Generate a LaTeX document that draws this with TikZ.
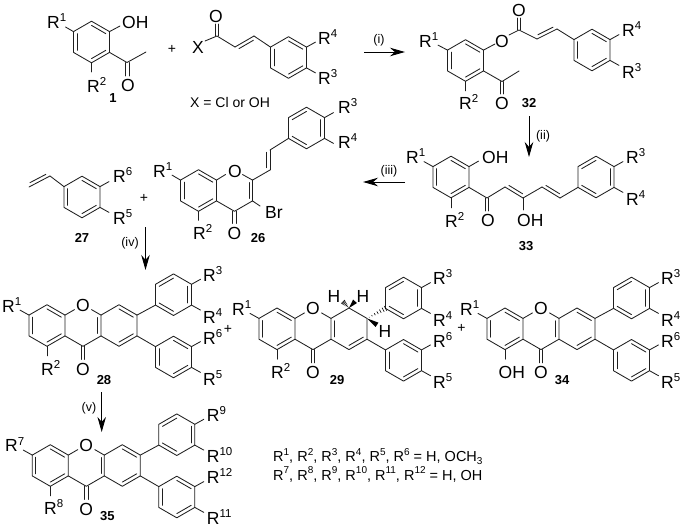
\documentclass[tikz,border=0pt]{standalone}
\usepackage{fontspec}
\setmainfont{Liberation Sans}
\usetikzlibrary{arrows.meta}
\newcounter{lc}
\tikzset{
  bond/.style={line width=0.85pt,line cap=round,line join=round,draw=black!88},
  lab/.style={inner sep=0pt,font=\fontsize{17.5}{17.5}\selectfont},
  note/.style={inner sep=0pt,font=\fontsize{14.5}{14.5}\selectfont},
  xnote/.style={inner sep=0pt,font=\fontsize{14}{14}\selectfont},
  plus/.style={inner sep=0pt,font=\fontsize{14}{14}\selectfont},
  cmpd/.style={inner sep=0pt,font=\bfseries\fontsize{13}{13}\selectfont},
  cond/.style={inner sep=0pt,font=\fontsize{12.5}{12.5}\selectfont},
  rxn/.style={line width=0.85pt,-{Stealth[length=15pt,width=8.5pt]}}
}
\newcommand\R[1]{R\raisebox{0.38em}{\fontsize{11.5}{11.5}\selectfont #1}}
\newcommand\Rn[1]{R\raisebox{0.42em}{\fontsize{10}{10}\selectfont #1}}
\newcommand\Lb[3]{\stepcounter{lc}\node[lab,anchor=base west] (t\arabic{lc}) at (#1,#2) {#3};}
\newcommand\Lc[3]{\stepcounter{lc}\node[lab,anchor=center] (t\arabic{lc}) at (#1,#2) {#3};}
\newcommand\Pl[2]{\stepcounter{lc}\node[plus,anchor=center] (t\arabic{lc}) at (#1,#2) {+};}
\newcommand\Cm[3]{\stepcounter{lc}\node[cmpd,anchor=base] (t\arabic{lc}) at (#1,#2) {#3};}
\newcommand\Cd[3]{\stepcounter{lc}\node[cond,anchor=center] (t\arabic{lc}) at (#1,#2) {#3};}
\newcommand\Ring[4]{%
  \foreach \k in {0,...,5}{\pgfmathsetmacro\an{-90+60*\k}\coordinate (#1\k) at ([shift={(#2,#3)}]\an:20.8);}
  \draw[bond] (#10)--(#11)--(#12)--(#13)--(#14)--(#15)--cycle;
  \foreach \e in {#4}{\pgfmathsetmacro\an{-90+60*\e}\pgfmathsetmacro\bn{\an+60}
    \draw[bond] ([shift={(#2,#3)}]\an:16.6)--([shift={(#2,#3)}]\bn:16.6);}}
\newcommand\DB[5]{%
  \pgfmathsetmacro\ddx{#3-#1}\pgfmathsetmacro\ddy{#4-#2}\pgfmathsetmacro\bl{veclen(\ddx,\ddy)}
  \pgfmathsetmacro\nnx{-\ddy/\bl*3.4*#5}\pgfmathsetmacro\nny{\ddx/\bl*3.4*#5}
  \draw[bond] (#1,#2)--(#3,#4);
  \draw[bond] (#1+\nnx+0.12*\ddx,#2+\nny+0.12*\ddy)--(#3+\nnx-0.12*\ddx,#4+\nny-0.12*\ddy);}
\newcommand\CO[3]{\draw[bond] (#1-1.9,#2)--(#1-1.9,#3); \draw[bond] (#1+1.9,#2)--(#1+1.9,#3);}
\newcommand\Wedge[4]{%
  \pgfmathsetmacro\ddx{#3-#1}\pgfmathsetmacro\ddy{#4-#2}\pgfmathsetmacro\bl{veclen(\ddx,\ddy)}
  \pgfmathsetmacro\nnx{-\ddy/\bl*2.6}\pgfmathsetmacro\nny{\ddx/\bl*2.6}
  \fill[black] (#1,#2)--(#3+\nnx,#4+\nny)--(#3-\nnx,#4-\nny)--cycle;}
\newcommand\Hash[4]{%
  \pgfmathsetmacro\ddx{#3-#1}\pgfmathsetmacro\ddy{#4-#2}\pgfmathsetmacro\bl{veclen(\ddx,\ddy)}
  \pgfmathsetmacro\nnx{-\ddy/\bl*2.6}\pgfmathsetmacro\nny{\ddx/\bl*2.6}
  \foreach \t in {0.12,0.27,0.42,0.57,0.72,0.87,1.0}{
    \draw[line width=0.6pt] (#1+\t*\ddx+\t*\nnx,#2+\t*\ddy+\t*\nny)--(#1+\t*\ddx-\t*\nnx,#2+\t*\ddy-\t*\nny);}}
% tricyclic core; #1 right-ring edges
\newcommand\Core[1]{%
  \Ring{l}{47}{325.5}{0,2,4}
  \Ring{r}{119}{325.5}{#1}
  \draw[bond] (l1)--(74.5,309.6);
  \draw[bond] (91.5,309.6)--(r5);
  \draw[bond] (r4)--(83,346.3)--(l2);
  \CO{83}{346.3}{359.5}
  \Lc{83}{305.6}{O}
  \Lc{83}{369}{O}
  \draw[bond] (l5)--+(-9,-5);
  \draw[bond] (l3)--+(0,9.5);}
\newcommand\ArL{%
  \Ring{w}{173.5}{357}{0,2,4}
  \draw[bond] (r2)--(w5);
  \draw[bond] (w1)--+(9,-5);
  \draw[bond] (w2)--+(9,5);}
\newcommand\ArU{%
  \Ring{u}{173.5}{294.7}{1,3,5}
  \draw[bond] (u1)--+(9,-5);
  \draw[bond] (u2)--+(9,5);}
\begin{document}
\begin{tikzpicture}[x=1pt,y=-1pt]
\useasboundingbox (0,0) rectangle (682,530);
% ---------- 1
\Ring{a}{91.5}{42}{0,2,4}
\draw[bond] (a5)--(65.5,27);
\draw[bond] (a1)--(120,26);
\draw[bond] (a3)--(91.5,72);
\draw[bond] (a2)--(127,62.5)--(146,52);
\CO{127.5}{62.5}{76}
\Lb{47}{28}{\R{1}}
\Lb{122}{28}{OH}
\Lb{87}{92}{\R{2}}
\Lc{128}{85}{O}
\Cm{113}{102.5}{1}
\Pl{172}{49}
% ---------- cinnamoyl X
\Lc{198}{47}{X}
\draw[bond] (205,41)--(217,36)--(235,47);
\CO{217}{36}{24}
\Lc{216}{16}{O}
\DB{235}{47}{254}{36}{1}
\Ring{b}{288.5}{57.5}{0,2,4}
\draw[bond] (254,36)--(b5);
\draw[bond] (b1)--+(9,-5);
\draw[bond] (b2)--+(9,5);
\Lb{318}{44}{\R{4}}
\Lb{318}{84}{\R{3}}
\stepcounter{lc}\node[xnote,anchor=base west] (t\arabic{lc}) at (190,107) {X = Cl or OH};
% ---------- arrow i
\coordinate (i1) at (364,52); \coordinate (i2) at (405,52);
\draw[rxn] (i1)--(i2);
\Cd{379}{40}{(i)}
% ---------- 32
\Ring{c}{465.5}{60.5}{0,2,4}
\draw[bond] (c5)--+(-9.5,-5);
\draw[bond] (c1)--(495,44);
\draw[bond] (c3)--+(0,9.5);
\draw[bond] (c2)--(502,81.5)--(519,71);
\CO{502}{81.5}{94}
\Lc{502}{103}{O}
\Lc{502}{41}{O}
\Lb{419}{47}{\R{1}}
\Lb{459}{109}{\R{2}}
\draw[bond] (509,35)--(519,30)--(537,39);
\CO{519}{30}{18}
\Lc{519}{10}{O}
\DB{537}{39}{557}{29}{-1}
\Ring{d}{592}{50}{0,2,4}
\draw[bond] (557,29)--(d5);
\draw[bond] (d1)--+(9,-5);
\draw[bond] (d2)--+(9,5);
\Lb{622}{36}{\R{4}}
\Lb{622}{78}{\R{3}}
\Cm{529}{107}{32}
% ---------- arrow ii
\coordinate (ii1) at (529,116); \coordinate (ii2) at (529,157);
\draw[rxn] (ii1)--(ii2);
\Cd{543}{136}{(ii)}
% ---------- 33
\Ring{e}{451}{177}{0,2,4}
\draw[bond] (e5)--+(-9,-5);
\draw[bond] (e1)--+(9.5,-5.5);
\draw[bond] (e3)--+(0,10);
\draw[bond] (e2)--(487,198)--(505,187);
\CO{487}{198}{211}
\Lc{488}{220}{O}
\DB{505}{187}{523}{198}{-1}
\draw[bond] (523,198)--(523,210);
\draw[bond] (523,198)--(542,187);
\DB{542}{187}{560}{198}{-1}
\Ring{f}{596}{177}{1,3,5}
\draw[bond] (560,198)--(f4);
\draw[bond] (f1)--+(9,-5);
\draw[bond] (f2)--+(9,5);
\Lb{406}{163}{\R{1}}
\Lb{482}{163}{OH}
\Lb{445}{227}{\R{2}}
\Lb{517}{226}{OH}
\Lb{626}{163}{\R{3}}
\Lb{626}{205}{\R{4}}
\Cm{526}{250}{33}
% ---------- arrow iii
\coordinate (iii1) at (405,182); \coordinate (iii2) at (363,182);
\draw[rxn] (iii1)--(iii2);
\Cd{389}{171}{(iii)}
% ---------- 26
\Ring{g}{198.5}{190.5}{0,2,4}
\draw[bond] (g1)--(225.5,174.5);
\draw[bond] (242.5,174.5)--(252.5,180.1);
\DB{252.5}{180.1}{252.5}{200.9}{1}
\draw[bond] (252.5,200.9)--(234.5,211.3)--(g2);
\CO{234.5}{211.3}{223.5}
\Lc{235}{171.5}{O}
\Lc{234.5}{233}{O}
\draw[bond] (252.5,200.9)--(260,206);
\Lb{265}{218}{Br}
\draw[bond] (g5)--+(-8.5,-5);
\draw[bond] (g3)--+(0,9);
\Lb{153}{177}{\R{1}}
\Lb{193}{239}{\R{2}}
\Cm{258}{242}{26}
\draw[bond] (252.5,180.1)--(270,170);
\DB{270}{170}{270}{150}{-1}
\Ring{h}{306.5}{128}{1,3,5}
\draw[bond] (270,150)--(h4);
\draw[bond] (h1)--+(9,-5);
\draw[bond] (h2)--+(9,5);
\Lb{338}{113}{\R{3}}
\Lb{338}{148}{\R{4}}
% ---------- 27
\Ring{j}{82}{197}{0,2,4}
\draw[bond] (j5)--(50,176);
\DB{29}{187}{50}{176}{-1}
\draw[bond] (j1)--+(9,-5);
\draw[bond] (j2)--+(9,5);
\Lb{113}{182}{\R{6}}
\Lb{113}{224}{\R{5}}
\Cm{82}{242}{27}
\Pl{144}{198}
% ---------- arrow iv
\coordinate (iv1) at (145.5,227); \coordinate (iv2) at (145.5,270);
\draw[rxn] (iv1)--(iv2);
\Cd{130}{243}{(iv)}
% ---------- 28
\Core{0,2}
\draw[bond] (97.8,317.5)--(97.8,333.5);
\ArU \draw[bond] (r1)--(u4);
\ArL
\Lb{2}{312}{\R{1}}
\Lb{41}{375}{\R{2}}
\Lb{203}{281}{\R{3}}
\Lb{203}{323}{\R{4}}
\Lb{203}{344}{\R{6}}
\Lb{203}{385}{\R{5}}
\Pl{228}{329}
\Cm{104}{384}{28}
% ---------- 29
\begin{scope}[shift={(230,3.3)}]
\Core{2}
\draw[bond] (104.2,317.5)--(104.2,333.5);
\ArU \ArL
\Hash{137}{315.1}{155.5}{305.1}
\Wedge{119}{304.7}{125}{298}
\Hash{119}{304.7}{113}{298.5}
\Wedge{137}{315.1}{147}{321.5}
\Lc{104}{292.7}{H}
\Lc{133}{292.7}{H}
\Lc{155}{327.7}{H}
\Lb{2}{312}{\R{1}}
\Lb{41}{375}{\R{2}}
\Lb{203}{281}{\R{3}}
\Lb{203}{323}{\R{4}}
\Lb{203}{344}{\R{6}}
\Lb{203}{385}{\R{5}}
\Cm{107}{381}{29}
\end{scope}
% ---------- 34
\begin{scope}[shift={(458,3.3)}]
\Core{0,2}
\draw[bond] (97.8,317.5)--(97.8,333.5);
\ArU \draw[bond] (r1)--(u4);
\ArL
\Lb{2}{312}{\R{1}}
\Lb{40.5}{375.5}{OH}
\Lb{203}{281}{\R{3}}
\Lb{203}{323}{\R{4}}
\Lb{203}{344}{\R{6}}
\Lb{203}{385}{\R{5}}
\Cm{104}{381}{34}
\end{scope}
\Pl{461.5}{328}
% ---------- arrow v
\coordinate (v1) at (101.7,392); \coordinate (v2) at (101.7,432);
\draw[rxn] (v1)--(v2);
\Cd{89}{408}{(v)}
% ---------- 35
\begin{scope}[shift={(3.3,140)}]
\Core{0,2}
\draw[bond] (97.8,317.5)--(97.8,333.5);
\ArU \draw[bond] (r1)--(u4);
\ArL
\Lb{1.7}{311.7}{\R{7}}
\Lb{40.7}{374}{\R{8}}
\Lb{203.4}{281}{\R{9}}
\Lb{203.4}{322}{\R{10}}
\Lb{203.4}{343.5}{\R{12}}
\Lb{203.4}{384}{\R{11}}
\Cm{104}{380}{35}
\end{scope}
% ---------- notes
\stepcounter{lc}\node[note,anchor=base west] (t\arabic{lc}) at (273,461.7) {\Rn{1}, \Rn{2}, \Rn{3}, \Rn{4}, \Rn{5}, \Rn{6} = H, OCH\raisebox{-0.2em}{\fontsize{10}{10}\selectfont 3}};
\stepcounter{lc}\node[note,anchor=base west] (t\arabic{lc}) at (273,480) {\Rn{7}, \Rn{8}, \Rn{9}, \Rn{10}, \Rn{11}, \Rn{12} = H, OH};
\end{tikzpicture}
\end{document}
